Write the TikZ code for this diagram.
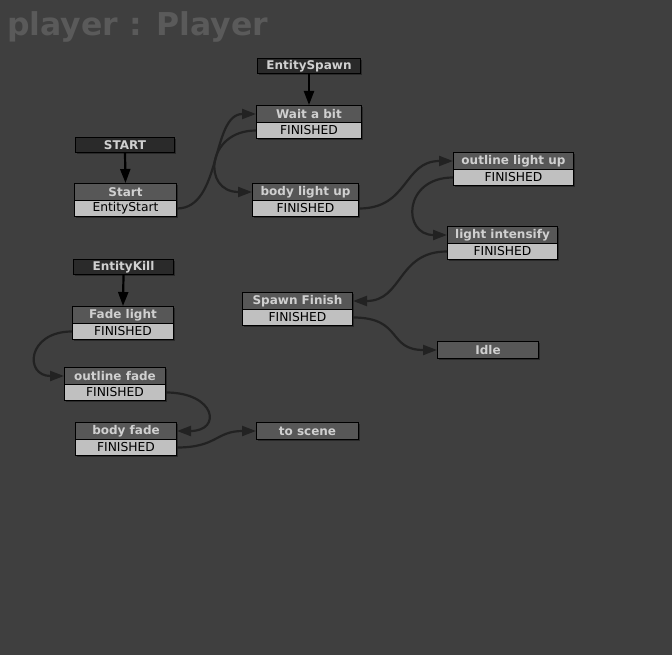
\documentclass[tikz,border=0pt]{standalone}
\usepackage{fontspec}
\setmainfont{DejaVu Sans}
\usetikzlibrary{arrows.meta,shadows}
\definecolor{bgc}{HTML}{3F3F3F}
\definecolor{hdrc}{HTML}{575757}
\definecolor{hdrtxt}{HTML}{D0D0D0}
\definecolor{rowc}{HTML}{C0C0C0}
\definecolor{evtc}{HTML}{2A2A2A}
\definecolor{edgec}{HTML}{222222}
\definecolor{titlec}{HTML}{5A5A5A}
\begin{document}
\begin{tikzpicture}[x=1pt,y=-1pt,
  shad/.style={drop shadow={shadow xshift=1.5pt,shadow yshift=-1.5pt,opacity=0.35,fill=black}},
  hdr/.style={draw=black,line width=1pt,fill=hdrc,text=hdrtxt,font=\bfseries\fontsize{12}{14}\selectfont,inner sep=0pt,minimum height=17pt,anchor=north west,shad},
  rowbox/.style={draw=black,line width=1pt,fill=rowc,text=black,font=\fontsize{12.3}{14}\selectfont,inner sep=0pt,minimum height=16pt,anchor=north west,shad},
  evt/.style={draw=black,line width=1pt,fill=evtc,text=hdrtxt,font=\bfseries\fontsize{12}{14}\selectfont,inner sep=0pt,minimum height=15pt,anchor=north west,shad},
  flow/.style={draw=edgec,line width=2.2pt,-{Triangle[length=14pt,width=10pt]}},
  evarrow/.style={draw=black,line width=2.2pt,-{Triangle[length=14pt,width=10pt]}}
]
\useasboundingbox[fill=bgc] (0,0) rectangle (672,655);
\node[anchor=base west,text=titlec,font=\bfseries\fontsize{31.5}{36}\selectfont,inner sep=0pt] (title) at (7,36) {player : Player};

% events
\node[evt,minimum width=103pt] (espawn) at (257,58) {EntitySpawn};
\node[evt,minimum width=99pt] (estart) at (75,137) {START};
\node[evt,minimum width=100pt] (ekill) at (73,259) {EntityKill};

% states
\node[hdr,minimum width=105pt] (waitH) at (256,105) {Wait a bit};
\node[rowbox,minimum width=105pt] (waitR) at (256,122) {FINISHED};

\node[hdr,minimum width=102pt] (startH) at (74,183) {Start};
\node[rowbox,minimum width=102pt] (startR) at (74,200) {EntityStart};

\node[hdr,minimum width=106pt] (bodyUpH) at (252,183) {body light up};
\node[rowbox,minimum width=106pt] (bodyUpR) at (252,200) {FINISHED};

\node[hdr,minimum width=120pt] (outUpH) at (453,152) {outline light up};
\node[rowbox,minimum width=120pt] (outUpR) at (453,169) {FINISHED};

\node[hdr,minimum width=110pt] (intH) at (447,226) {light intensify};
\node[rowbox,minimum width=110pt] (intR) at (447,243) {FINISHED};

\node[hdr,minimum width=110pt] (spawnH) at (242,292) {Spawn Finish};
\node[rowbox,minimum width=110pt] (spawnR) at (242,309) {FINISHED};

\node[hdr,minimum width=101pt] (idle) at (437,341) {Idle};

\node[hdr,minimum width=101pt] (fadeH) at (72,306) {Fade light};
\node[rowbox,minimum width=101pt] (fadeR) at (72,323) {FINISHED};

\node[hdr,minimum width=101pt] (outFadeH) at (64,367) {outline fade};
\node[rowbox,minimum width=101pt] (outFadeR) at (64,384) {FINISHED};

\node[hdr,minimum width=101pt] (bodyFadeH) at (75,422) {body fade};
\node[rowbox,minimum width=101pt] (bodyFadeR) at (75,439) {FINISHED};

\node[hdr,minimum width=102pt] (toScene) at (256,422) {to scene};

% event arrows
\draw[evarrow] (espawn.south) -- (waitH.north);
\draw[evarrow] (estart.south) -- (startH.north);
\draw[evarrow] (ekill.south) -- (fadeH.north);

% transitions
\draw[flow] (startR.east) .. controls +(45,0) and +(-45,0) .. (waitH.west);
\draw[flow] (waitR.west) .. controls +(-50,0) and +(-50,0) .. (bodyUpH.west);
\draw[flow] (bodyUpR.east) .. controls +(50,0) and +(-50,0) .. (outUpH.west);
\draw[flow] (outUpR.west) .. controls +(-50,0) and +(-45,0) .. (intH.west);
\draw[flow] (intR.west) .. controls +(-50,0) and +(50,0) .. (spawnH.east);
\draw[flow] (spawnR.east) .. controls +(50,0) and +(-50,0) .. (idle.west);
\draw[flow] (fadeR.west) .. controls +(-45,0) and +(-40,0) .. (outFadeH.west);
\draw[flow] (outFadeR.east) .. controls +(50,0) and +(45,0) .. (bodyFadeH.east);
\draw[flow] (bodyFadeR.east) .. controls +(40,0) and +(-40,0) .. (toScene.west);
\end{tikzpicture}
\end{document}
